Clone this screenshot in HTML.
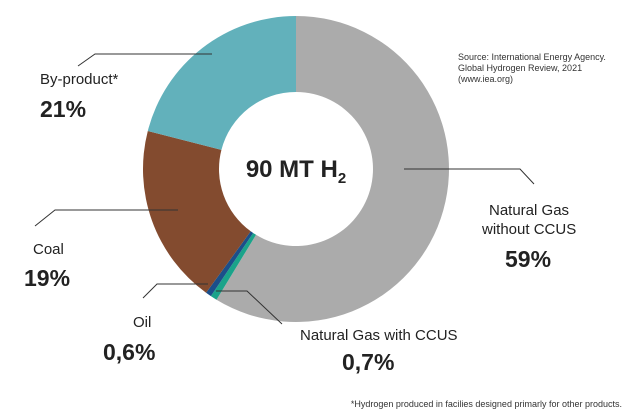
<!DOCTYPE html>
<html><head><meta charset="utf-8"><style>
html,body{margin:0;padding:0;background:#fff;}
svg{display:block;font-family:"Liberation Sans",sans-serif;}
</style></head><body>
<svg width="633" height="415" viewBox="0 0 633 415" xmlns="http://www.w3.org/2000/svg">
<path fill="#ababab" d="M296,16 A153,153 0 1 1 216.51,299.74 L256,234.8 A77,77 0 1 0 296,92 Z"/>
<path fill="#1aa38a" d="M216.51,299.74 A153,153 0 0 1 210.89,296.14 L253.16,232.99 A77,77 0 0 0 256,234.8 Z"/>
<path fill="#1b4f8a" d="M210.89,296.14 A153,153 0 0 1 206.07,292.78 L250.74,231.29 A77,77 0 0 0 253.16,232.99 Z"/>
<path fill="#834b2f" d="M206.07,292.78 A153,153 0 0 1 147.8,130.95 L221.42,149.85 A77,77 0 0 0 250.74,231.29 Z"/>
<path fill="#62b1bb" d="M147.8,130.95 A153,153 0 0 1 296,16 L296,92 A77,77 0 0 0 221.42,149.85 Z"/>
<g fill="none" stroke="#333" stroke-width="1">
<polyline points="78,66 95,54 212,54"/>
<polyline points="35,226 55,210 178,210"/>
<polyline points="143,298 157,284 208,284"/>
<polyline points="216,291 247,291 282,324"/>
<polyline points="404,169 520,169 534,184"/>
</g>
<text x="296" y="177" text-anchor="middle" font-size="24" font-weight="bold" fill="#222">90 MT H<tspan font-size="15" dy="6">2</tspan></text>
<g fill="#222">
<text x="40" y="84" font-size="15">By-product*</text>
<text x="40" y="117" font-size="23" font-weight="bold">21%</text>
<text x="33" y="254" font-size="15">Coal</text>
<text x="24" y="286" font-size="23" font-weight="bold">19%</text>
<text x="133" y="327" font-size="15">Oil</text>
<text x="103" y="360" font-size="23" font-weight="bold">0,6%</text>
<text x="300" y="340" font-size="15">Natural Gas with CCUS</text>
<text x="342" y="370" font-size="23" font-weight="bold">0,7%</text>
<text x="489" y="215" font-size="15">Natural Gas</text>
<text x="482" y="234" font-size="15">without CCUS</text>
<text x="505" y="267" font-size="23" font-weight="bold">59%</text>
<text x="458" y="60" font-size="9" fill="#333">Source: International Energy Agency.</text>
<text x="458" y="71" font-size="9" fill="#333">Global Hydrogen Review, 2021</text>
<text x="458" y="82" font-size="9" fill="#333">(www.iea.org)</text>
<text x="622" y="407" font-size="9" text-anchor="end" fill="#333">*Hydrogen produced in facilies designed primarly for other products.</text>
</g>
</svg>
</body></html>
